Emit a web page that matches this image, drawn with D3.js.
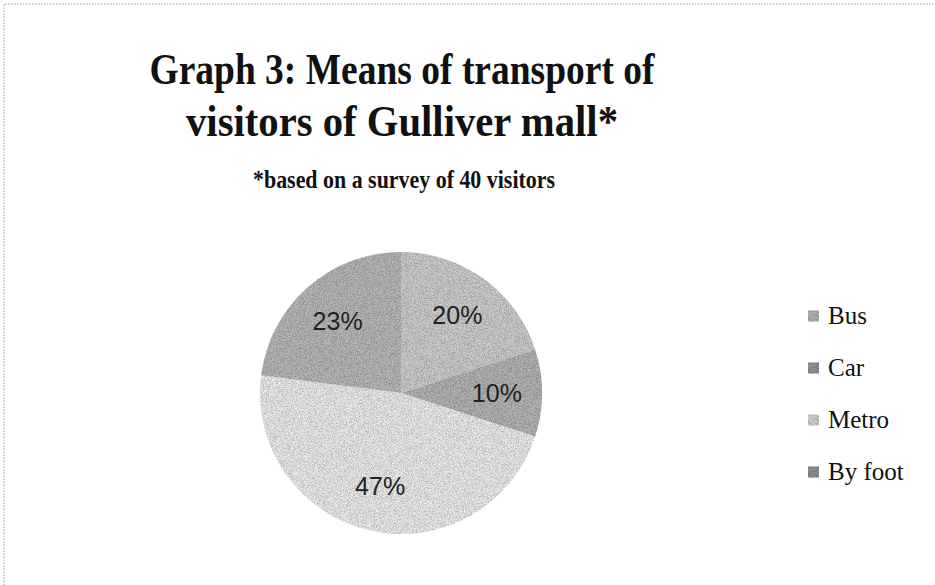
<!DOCTYPE html>
<html>
<head>
<meta charset="utf-8">
<script src="https://cdn.jsdelivr.net/npm/d3@7"></script>
<style>
  html, body { margin: 0; padding: 0; background: #fff; }
  svg { display: block; }
</style>
</head>
<body>
<svg id="chart" width="935" height="585"></svg>
<script>
// Survey results: share of visitors per means of transport (percent)
const categories = ["Bus", "Car", "Metro", "By foot"];
const shares = [20, 10, 47, 23];
const titleLines = ["Graph 3: Means of transport of", "visitors of Gulliver mall*"];
const subtitle = "*based on a survey of 40 visitors";

// Grey tones per slice: [top shade, bottom shade]
const tones = [
  ["#cfcfcf", "#b6b6b6"],
  ["#b6b6b6", "#989898"],
  ["#eeeeee", "#d4d4d4"],
  ["#bababa", "#939393"]
];

const W = 935, H = 585;
const svg = d3.select("#chart");
const defs = svg.append("defs");

// Fine printed-grain texture
const grain = defs.append("filter").attr("id", "grain")
  .attr("x", 0).attr("y", 0).attr("width", 1).attr("height", 1);
grain.append("feTurbulence").attr("type", "fractalNoise")
  .attr("baseFrequency", 1.4).attr("numOctaves", 1).attr("seed", 7).attr("result", "noise");
grain.append("feColorMatrix").attr("in", "noise").attr("type", "matrix")
  .attr("values", "0 0 0 0 0  0 0 0 0 0  0 0 0 0 0  0 0 0 -1.1 0.75")
  .attr("result", "dots");
grain.append("feComposite").attr("in", "dots").attr("in2", "SourceGraphic")
  .attr("operator", "in").attr("result", "dotsIn");
const gm = grain.append("feMerge");
gm.append("feMergeNode").attr("in", "SourceGraphic");
gm.append("feMergeNode").attr("in", "dotsIn");

// Dotted frame of the chart area
svg.append("path")
  .attr("d", `M4,${H} V4 H${W}`)
  .attr("fill", "none")
  .attr("stroke", "#9a9a9a")
  .attr("stroke-width", 1)
  .attr("stroke-dasharray", "1.5,1.5");

// Titles
const serif = "'Liberation Serif', 'DejaVu Serif', serif";
const titleWidths = [505, 432];
const titleBase = [84, 136];
titleLines.forEach((t, i) => {
  svg.append("text")
    .attr("x", 402).attr("y", titleBase[i])
    .attr("text-anchor", "middle")
    .attr("font-family", serif).attr("font-weight", "bold")
    .attr("font-size", 44).attr("fill", "#111")
    .attr("textLength", titleWidths[i]).attr("lengthAdjust", "spacingAndGlyphs")
    .text(t);
});
svg.append("text")
  .attr("x", 404).attr("y", 188)
  .attr("text-anchor", "middle")
  .attr("font-family", serif).attr("font-weight", "bold")
  .attr("font-size", 26).attr("fill", "#111")
  .attr("textLength", 302).attr("lengthAdjust", "spacingAndGlyphs")
  .text(subtitle);

// Pie
const cx = 401, cy = 393, R = 141;
const pie = d3.pie().sort(null).value(d => d)(shares);
const arc = d3.arc().innerRadius(0).outerRadius(R);
const labelArc = d3.arc().innerRadius(R * 0.68).outerRadius(R * 0.68);

tones.forEach((t, i) => {
  const g = defs.append("linearGradient").attr("id", "tone" + i)
    .attr("gradientUnits", "userSpaceOnUse")
    .attr("x1", 0).attr("y1", cy - R).attr("x2", 0).attr("y2", cy + R);
  g.append("stop").attr("offset", "0%").attr("stop-color", t[0]);
  g.append("stop").attr("offset", "100%").attr("stop-color", t[1]);
});

const pieG = svg.append("g").attr("transform", `translate(${cx},${cy})`);
const sliceG = pieG.append("g").attr("filter", "url(#grain)");
sliceG.selectAll("path").data(pie).join("path")
  .attr("d", arc)
  .attr("fill", (d, i) => `url(#tone${i})`);

pieG.selectAll("text.lbl").data(pie).join("text")
  .attr("class", "lbl")
  .attr("transform", d => `translate(${labelArc.centroid(d)})`)
  .attr("text-anchor", "middle")
  .attr("dy", "0.35em")
  .attr("font-family", "'Liberation Sans', Arimo, sans-serif")
  .attr("font-size", 25).attr("fill", "#222")
  .text(d => d3.format(".0f")(d.value) + "%");

// Legend
const legendY = d3.scalePoint().domain(categories).range([316, 472]);
const lg = svg.append("g");
const rows = lg.selectAll("g").data(categories).join("g")
  .attr("transform", d => `translate(808,${legendY(d)})`);
rows.append("rect")
  .attr("x", 0).attr("y", -5.5).attr("width", 11).attr("height", 11)
  .attr("fill", (d, i) => tones[i][1])
  .attr("filter", "url(#grain)");
rows.append("text")
  .attr("x", 20).attr("y", 0).attr("dy", "0.33em")
  .attr("font-family", serif).attr("font-size", 25).attr("fill", "#111")
  .text(d => d);
</script>
</body>
</html>
